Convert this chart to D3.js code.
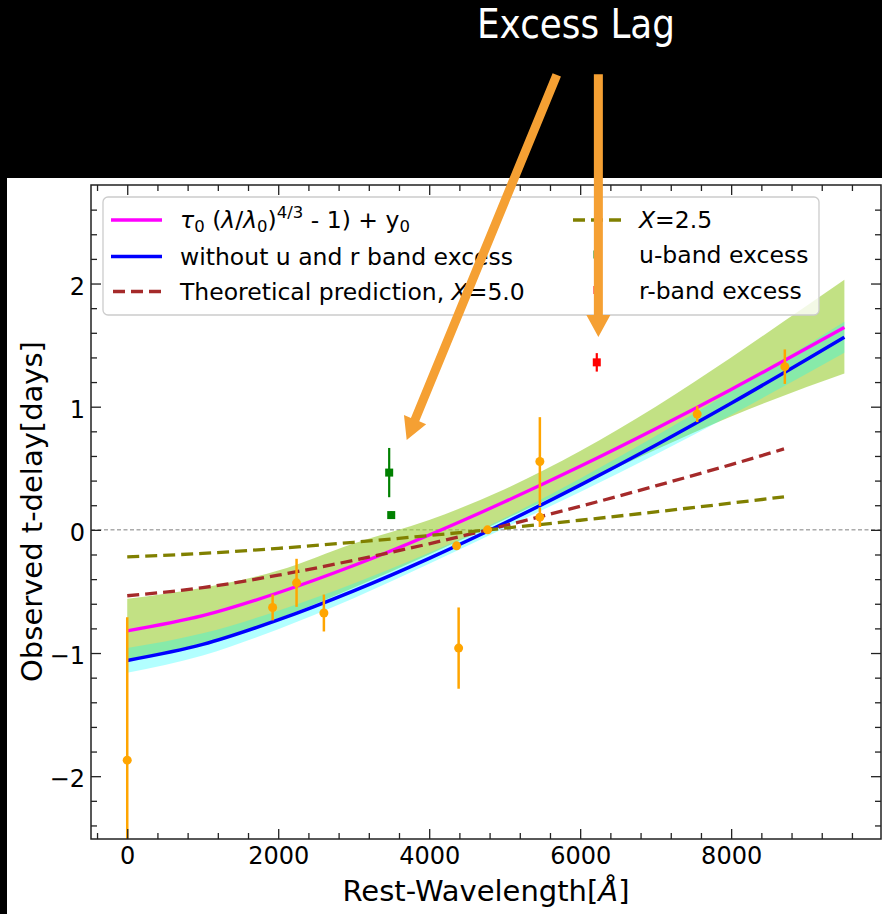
<!DOCTYPE html>
<html><head><meta charset="utf-8">
<script src="https://cdn.jsdelivr.net/npm/d3@7"></script>
<style>body{margin:0;background:#fff}svg{display:block}text{font-family:"DejaVu Sans",sans-serif}</style>
</head><body><svg id="c" width="882" height="914"></svg>
<script>
// ---------- data ----------
const orangeLambda = [0, 1926, 2243, 2605, 4363, 4390, 4773, 5466, 5466, 7550, 8711];
const orangeDelay  = [-1.87, -0.63, -0.43, -0.675, -0.13, -0.96, 0.0, 0.555, 0.103, 0.94, 1.325];
const orangeErr    = [1.16, 0.105, 0.195, 0.15, 0.03, 0.33, 0.02, 0.36, 0.08, 0.065, 0.14];
const uLambda = [3470, 3497];
const uDelay  = [0.465, 0.12];
const uErr    = [0.2, 0.03];
const rLambda = [6220];
const rDelay  = [1.36];
const rErr    = [0.075];

const curveLambda   = [0, 1000, 2000, 3000, 4000, 5000, 6000, 7000, 8000, 9000, 9500];
const fitAll        = [-0.82, -0.697, -0.511, -0.290, -0.042, 0.228, 0.516, 0.821, 1.140, 1.474, 1.644];
const fitAllLow     = [-1.05, -0.92, -0.72, -0.47, -0.20, 0.085, 0.37, 0.65, 0.92, 1.16, 1.27];
const fitAllHigh    = [-0.56, -0.47, -0.33, -0.11, 0.08, 0.33, 0.64, 1.00, 1.40, 1.82, 2.03];
const fitNoEx       = [-1.06, -0.930, -0.731, -0.495, -0.231, 0.056, 0.363, 0.687, 1.028, 1.383, 1.564];
const fitNoExLow    = [-1.16, -1.02, -0.806, -0.555, -0.276, 0.016, 0.308, 0.612, 0.933, 1.268, 1.439];
const fitNoExHigh   = [-0.96, -0.84, -0.656, -0.435, -0.186, 0.096, 0.418, 0.762, 1.123, 1.498, 1.689];

const theoLambda = [0, 1000, 2000, 3000, 4000, 5000, 6000, 7000, 8000, 8700];
const theoX50    = [-0.535, -0.469, -0.368, -0.247, -0.113, 0.034, 0.191, 0.357, 0.530, 0.657];
const theoX25    = [-0.219, -0.191, -0.150, -0.101, -0.046, 0.014, 0.078, 0.146, 0.217, 0.268];

const xMajorTicks = [0, 2000, 4000, 6000, 8000];
const yMajorTicks = [-2, -1, 0, 1, 2];

const legendLabels = ["without u and r band excess", "Theoretical prediction, ", "=2.5", "u-band excess", "r-band excess"];
const titleText = "Excess Lag";
// annotation arrows (tail / tip in data coordinates)
const arrowTail = [[5690, 3.694], [6241, 3.70]];
const arrowTip  = [[3702, 0.73], [6241, 1.566]];

// ---------- layout ----------
const W = 882, H = 914;
const m = {l: 91, r: 881, t: 185, b: 839};
const svg = d3.select('#c');
svg.append('rect').attr('width', W).attr('height', H).attr('fill', '#fff');

const x = d3.scaleLinear().domain([-480, 9985]).range([m.l, m.r]);
const y = d3.scaleLinear().domain([-2.51, 2.80]).range([m.b, m.t]);

svg.append('clipPath').attr('id', 'clip').append('rect')
  .attr('x', m.l).attr('y', m.t).attr('width', m.r - m.l).attr('height', m.b - m.t);
const plot = svg.append('g').attr('clip-path', 'url(#clip)');

// zero line
plot.append('line').attr('x1', m.l).attr('x2', m.r).attr('y1', y(0)).attr('y2', y(0))
  .attr('stroke', '#808080').attr('stroke-width', 1).attr('stroke-dasharray', '4,2.5');

const bandArea = d3.area().x(d => x(d[0])).y0(d => y(d[1])).y1(d => y(d[2])).curve(d3.curveMonotoneX);
const green = curveLambda.map((l, i) => [l, fitAllLow[i], fitAllHigh[i]]);
const cyan  = curveLambda.map((l, i) => [l, fitNoExLow[i], fitNoExHigh[i]]);
plot.append('path').attr('d', bandArea(green)).attr('fill', 'yellowgreen').attr('fill-opacity', 0.6);
plot.append('path').attr('d', bandArea(cyan)).attr('fill', 'aqua').attr('fill-opacity', 0.3);

const line = d3.line().x(d => x(d[0])).y(d => y(d[1])).curve(d3.curveMonotoneX);
plot.append('path').attr('d', line(curveLambda.map((l, i) => [l, fitAll[i]])))
  .attr('fill', 'none').attr('stroke', '#ff00ff').attr('stroke-width', 3.3);
plot.append('path').attr('d', line(curveLambda.map((l, i) => [l, fitNoEx[i]])))
  .attr('fill', 'none').attr('stroke', '#0000ff').attr('stroke-width', 3.5);
plot.append('path').attr('d', line(theoLambda.map((l, i) => [l, theoX50[i]])))
  .attr('fill', 'none').attr('stroke', '#a52a2a').attr('stroke-width', 3.3).attr('stroke-dasharray', '12,6');
plot.append('path').attr('d', line(theoLambda.map((l, i) => [l, theoX25[i]])))
  .attr('fill', 'none').attr('stroke', '#808000').attr('stroke-width', 3.3).attr('stroke-dasharray', '12,6');

// error bars
function errbars(L, D, E, color, lw, shape, size) {
  const g = plot.append('g');
  L.forEach((l, i) => {
    g.append('line').attr('x1', x(l)).attr('x2', x(l)).attr('y1', y(D[i] - E[i])).attr('y2', y(D[i] + E[i]))
      .attr('stroke', color).attr('stroke-width', lw);
  });
  L.forEach((l, i) => {
    if (shape === 'circle') g.append('circle').attr('cx', x(l)).attr('cy', y(D[i])).attr('r', size / 2).attr('fill', color);
    else g.append('rect').attr('x', x(l) - size / 2).attr('y', y(D[i]) - size / 2).attr('width', size).attr('height', size).attr('fill', color);
  });
}
errbars(orangeLambda, orangeDelay, orangeErr, '#ffa500', 2.5, 'circle', 9);
errbars(uLambda, uDelay, uErr, '#008000', 2.2, 'rect', 8);
errbars(rLambda, rDelay, rErr, '#ff0000', 2.2, 'rect', 8);

// ---------- axes ----------
function styleAxis(g) { g.select('.domain').remove(); g.selectAll('line').attr('stroke', '#222').attr('stroke-width', 1.3); }
const xMinor = d3.range(-400, 9985, 400).filter(v => v % 2000 !== 0);
const yMinor = d3.range(-12, 14).filter(k => k % 5 !== 0).map(k => k * 0.2).filter(v => v > -2.51 && v < 2.75);

const gB = svg.append('g').attr('transform', `translate(0,${m.b})`)
  .call(d3.axisBottom(x).tickValues(xMajorTicks).tickSize(-10).tickSizeOuter(0).tickFormat(d3.format('d')));
styleAxis(gB);
gB.selectAll('text').attr('y', 0).attr('dy', 24.5).attr('font-size', 24).attr('fill', '#000').attr('font-family', 'DejaVu Sans');
svg.append('g').attr('transform', `translate(0,${m.b})`)
  .call(d3.axisBottom(x).tickValues(xMinor).tickSize(-6).tickSizeOuter(0).tickFormat('')).call(styleAxis);
svg.append('g').attr('transform', `translate(0,${m.t})`)
  .call(d3.axisTop(x).tickValues(xMajorTicks).tickSize(-10).tickSizeOuter(0).tickFormat('')).call(styleAxis);
svg.append('g').attr('transform', `translate(0,${m.t})`)
  .call(d3.axisTop(x).tickValues(xMinor).tickSize(-6).tickSizeOuter(0).tickFormat('')).call(styleAxis);

const gL = svg.append('g').attr('transform', `translate(${m.l},0)`)
  .call(d3.axisLeft(y).tickValues(yMajorTicks).tickSize(-10).tickSizeOuter(0).tickFormat(d3.format('d')));
styleAxis(gL);
gL.selectAll('text').attr('x', -6).attr('dy', 10.5).attr('font-size', 24).attr('fill', '#000').attr('font-family', 'DejaVu Sans');
svg.append('g').attr('transform', `translate(${m.l},0)`)
  .call(d3.axisLeft(y).tickValues(yMinor).tickSize(-6).tickSizeOuter(0).tickFormat('')).call(styleAxis);
svg.append('g').attr('transform', `translate(${m.r},0)`)
  .call(d3.axisRight(y).tickValues(yMajorTicks).tickSize(-10).tickSizeOuter(0).tickFormat('')).call(styleAxis);
svg.append('g').attr('transform', `translate(${m.r},0)`)
  .call(d3.axisRight(y).tickValues(yMinor).tickSize(-6).tickSizeOuter(0).tickFormat('')).call(styleAxis);

svg.append('rect').attr('x', m.l).attr('y', m.t).attr('width', m.r - m.l).attr('height', m.b - m.t)
  .attr('fill', 'none').attr('stroke', '#222').attr('stroke-width', 1.5);

// axis labels
const xl = svg.append('text').attr('x', (m.l + m.r) / 2).attr('y', 900.5).attr('text-anchor', 'middle').attr('font-size', 29);
xl.append('tspan').text('Rest-Wavelength[');
xl.append('tspan').attr('font-style', 'italic').text('Å');
xl.append('tspan').text(']');
svg.append('text').attr('transform', 'translate(41.5,511.5) rotate(-90)').attr('text-anchor', 'middle')
  .attr('font-size', 29).text('Observed t-delay[days]');

// ---------- legend ----------
const leg = svg.append('g');
leg.append('rect').attr('x', 103).attr('y', 197).attr('width', 716).attr('height', 118).attr('rx', 5)
  .attr('fill', '#fff').attr('fill-opacity', 0.8).attr('stroke', '#cccccc').attr('stroke-width', 1.3);
const rowY = [220, 256.5, 291.5];
const c1h = [111, 162], c1t = 180, c2h = [573, 622], c2t = 639;
leg.append('line').attr('x1', c1h[0]).attr('x2', c1h[1]).attr('y1', rowY[0]).attr('y2', rowY[0]).attr('stroke', '#ff00ff').attr('stroke-width', 3.3);
leg.append('line').attr('x1', c1h[0]).attr('x2', c1h[1]).attr('y1', rowY[1]).attr('y2', rowY[1]).attr('stroke', '#0000ff').attr('stroke-width', 3.5);
leg.append('line').attr('x1', c1h[0]+2).attr('x2', c1h[1]).attr('y1', rowY[2]).attr('y2', rowY[2]).attr('stroke', '#a52a2a').attr('stroke-width', 3.3).attr('stroke-dasharray', '12,6');
leg.append('line').attr('x1', c2h[0]).attr('x2', c2h[1]).attr('y1', rowY[0]).attr('y2', rowY[0]).attr('stroke', '#808000').attr('stroke-width', 3.3).attr('stroke-dasharray', '12,6');
[['#008000', rowY[1] - 2], ['#ff0000', rowY[2] - 1.5]].forEach(([c, yy]) => {
  const cx = (c2h[0] + c2h[1]) / 2;
  leg.append('line').attr('x1', cx).attr('x2', cx).attr('y1', yy - 8).attr('y2', yy + 8).attr('stroke', c).attr('stroke-width', 2.2);
  leg.append('rect').attr('x', cx - 4).attr('y', yy - 4).attr('width', 8).attr('height', 8).attr('fill', c);
});
const fs = 23.5, sub = 16.5;
const t1 = leg.append('text').attr('x', c1t).attr('y', rowY[0] + 8.3).attr('font-size', fs);
t1.append('tspan').attr('font-style', 'italic').text('τ');
t1.append('tspan').attr('font-size', sub).attr('dy', 4).text('0');
t1.append('tspan').attr('dy', -4).text(' (');
t1.append('tspan').attr('font-style', 'italic').text('λ');
t1.append('tspan').text('/');
t1.append('tspan').attr('font-style', 'italic').text('λ');
t1.append('tspan').attr('font-size', sub).attr('dy', 4).text('0');
t1.append('tspan').attr('dy', -4).text(')');
t1.append('tspan').attr('font-size', sub).attr('dy', -10).text('4/3');
t1.append('tspan').attr('dy', 10).text(' - 1) + y');
t1.append('tspan').attr('font-size', sub).attr('dy', 4).text('0');
leg.append('text').attr('x', c1t).attr('y', rowY[1] + 8.3).attr('font-size', fs).text(legendLabels[0]);
const t3 = leg.append('text').attr('x', c1t).attr('y', rowY[2] + 8.3).attr('font-size', fs);
t3.append('tspan').text(legendLabels[1]);
t3.append('tspan').attr('font-style', 'italic').text('X');
t3.append('tspan').text('=5.0');
const t4 = leg.append('text').attr('x', c2t).attr('y', rowY[0] + 8.3).attr('font-size', fs);
t4.append('tspan').attr('font-style', 'italic').text('X');
t4.append('tspan').text(legendLabels[2]);
leg.append('text').attr('x', c2t).attr('y', rowY[1] + 6.5).attr('font-size', fs).text(legendLabels[3]);
leg.append('text').attr('x', c2t).attr('y', rowY[2] + 7).attr('font-size', fs).text(legendLabels[4]);

// ---------- slide overlay ----------
svg.append('rect').attr('x', 0).attr('y', 0).attr('width', W).attr('height', 178).attr('fill', '#000');
svg.append('rect').attr('x', 0).attr('y', 0).attr('width', 7).attr('height', H).attr('fill', '#000');
svg.append('text').attr('x', 477).attr('y', 38).attr('font-family', 'Lato').attr('font-size', 41)
  .attr('fill', '#fff').attr('textLength', 198).attr('lengthAdjust', 'spacingAndGlyphs').text(titleText);

function arrow(t, h) {
  const x0 = x(t[0]), y0 = y(t[1]), x1 = x(h[0]), y1 = y(h[1]);
  const dx = x1 - x0, dy = y1 - y0, L = Math.hypot(dx, dy);
  const ux = dx / L, uy = dy / L, px = -uy, py = ux;
  const sw = 4.5, hw = 12, hl = 22;
  const bx = x1 - hl * ux, by = y1 - hl * uy;
  const pts = [
    [x0 + sw * px, y0 + sw * py], [bx + sw * px, by + sw * py], [bx + hw * px, by + hw * py],
    [x1, y1],
    [bx - hw * px, by - hw * py], [bx - sw * px, by - sw * py], [x0 - sw * px, y0 - sw * py]
  ];
  svg.append('polygon').attr('points', pts.map(p => p.join(',')).join(' ')).attr('fill', '#f5a033');
}
arrowTail.forEach((t, i) => arrow(t, arrowTip[i]));
</script></body></html>
